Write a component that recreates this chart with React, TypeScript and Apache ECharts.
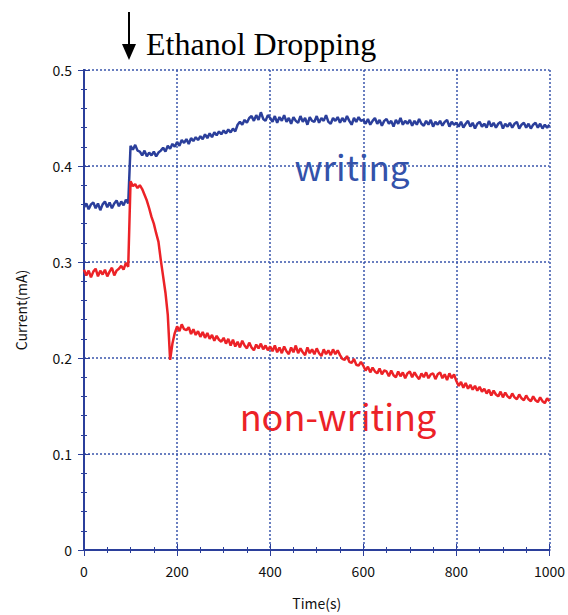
import React, { useEffect, useRef } from "react";
import * as echarts from "echarts";

const STEP = 5; // seconds between samples
const xTicks = [0, 200, 400, 600, 800, 1000];
const yTicks = [0, 0.1, 0.2, 0.3, 0.4, 0.5];

const writing = [
  0.357,0.361,0.355,0.360,0.362,0.356,0.361,0.354,0.360,0.363,0.357,0.362,0.356,0.361,0.364,0.358,0.363,0.359,0.365,0.361,
  0.421,0.417,0.422,0.416,
  0.415,0.411,0.416,0.410,0.414,0.411,0.415,0.410,0.414,0.416,
  0.419,0.415,0.421,0.418,0.423,0.420,
  0.425,0.421,0.427,0.424,0.428,0.423,0.429,0.426,0.430,0.427,
  0.431,0.428,0.433,0.429,0.434,0.430,0.435,0.432,0.436,0.433,
  0.437,0.434,0.438,0.435,0.439,0.436,
  0.443,0.446,0.443,0.448,0.445,0.450,
  0.452,0.447,0.453,0.448,0.456,0.449,0.447,0.453,
  0.450,0.446,0.452,0.445,0.451,0.447,0.453,0.446,0.450,0.444,0.451,0.447,0.445,0.452,0.446,0.450,0.443,0.451,0.447,0.446,
  0.452,0.445,0.450,0.447,0.453,0.446,0.444,0.450,0.447,0.451,0.445,0.450,0.446,0.452,0.447,0.443,0.450,0.446,0.451,0.447,
  0.448,0.444,0.449,0.443,0.447,0.450,0.444,0.448,0.442,0.447,0.449,0.444,0.447,0.441,0.448,0.444,0.450,0.443,0.447,0.444,
  0.448,0.442,0.447,0.443,0.449,0.444,0.442,0.447,0.443,0.448,0.441,0.446,0.443,0.447,0.442,0.446,0.448,0.441,0.446,0.443,
  0.445,0.441,0.446,0.440,0.444,0.447,0.441,0.445,0.439,0.444,0.446,0.441,0.444,0.440,0.447,0.441,0.445,0.440,0.444,0.446,
  0.439,0.444,0.441,0.445,0.440,0.444,0.446,0.439,0.443,0.445,0.440,0.444,0.439,0.443,0.445,0.440,0.444,0.439,0.443,0.440,0.443,
];

const nonWriting = [
  0.292,0.286,0.291,0.284,0.290,0.293,0.285,0.291,0.287,0.292,0.285,0.290,0.294,0.286,0.291,0.293,0.296,0.292,0.299,0.295,
  0.384,0.379,0.381,0.377,0.380,0.376,
  0.370,0.364,0.356,0.347,0.340,0.330,0.321,0.302,0.285,0.268,0.245,0.198,
  0.215,0.226,0.233,0.228,0.235,0.230,
  0.229,0.232,0.225,0.230,0.224,0.228,0.222,0.227,0.221,0.226,0.220,0.224,0.218,0.223,0.219,0.217,
  0.221,0.215,0.220,0.213,0.219,0.212,0.217,0.211,0.218,0.213,0.210,0.216,0.211,0.208,0.214,0.210,0.215,0.209,0.213,0.208,
  0.212,0.207,0.213,0.206,0.211,0.205,0.212,0.207,0.204,0.211,0.206,0.213,0.205,0.210,0.206,0.203,0.211,0.205,0.209,0.204,
  0.210,0.205,0.202,0.209,0.204,0.208,0.203,0.209,0.204,0.208,
  0.203,0.199,0.198,0.202,0.196,0.195,0.199,0.193,0.192,0.196,
  0.192,0.187,0.191,0.185,0.190,0.186,0.184,0.189,0.183,0.187,
  0.186,0.181,0.187,0.182,0.180,0.186,0.181,0.185,0.179,0.184,0.186,0.180,0.185,0.181,0.178,0.184,0.180,0.185,0.179,0.183,
  0.184,0.178,0.183,0.185,0.179,0.183,0.177,0.184,0.179,0.183,
  0.176,0.171,0.175,0.169,0.174,0.168,0.172,0.167,0.171,0.166,0.170,0.165,
  0.168,0.163,0.167,0.161,0.166,0.162,0.160,0.165,0.159,0.164,0.160,0.158,0.163,0.159,0.157,0.162,0.158,0.156,0.161,0.157,
  0.155,0.160,0.156,0.154,0.159,0.155,0.153,0.158,0.155,
];

const BLUE = "#2B3F9B";
const RED = "#EC2227";
const GRID = "#3A55AC";
const SANS = "'Noto Sans CJK JP', 'Noto Sans', sans-serif";

export default function App() {
  const ref = useRef<HTMLDivElement>(null);
  useEffect(() => {
    if (!ref.current) return;
    const chart = echarts.init(ref.current, undefined, { renderer: "svg" });
    const toPairs = (arr: number[]) => arr.map((v, i) => [i * STEP, v]);
    const common = {
      axisLine: { show: true, lineStyle: { color: BLUE, width: 2 } },
      axisTick: { show: true, inside: true, length: 6, lineStyle: { color: BLUE, width: 1 } },
      minorTick: { show: true, length: 3, lineStyle: { color: BLUE, width: 1 } },
    };
    chart.setOption({
      animation: false,
      backgroundColor: "#ffffff",
      grid: { left: 84, right: 17, top: 70, bottom: 64, containLabel: false },
      xAxis: [
        {
          type: "value",
          min: xTicks[0],
          max: xTicks[xTicks.length - 1],
          interval: 200,
          position: "bottom",
          ...common,
          minorTick: { ...common.minorTick, splitNumber: 4 },
          axisLabel: { color: "#111", fontSize: 14, fontFamily: SANS, margin: 14, formatter: (v: number) => String(v) },
          splitLine: { show: true, lineStyle: { color: GRID, type: [2, 2], width: 1.5 } },
          name: "Time(s)",
          nameLocation: "middle",
          nameGap: 46,
          nameTextStyle: { color: "#111", fontSize: 14, fontFamily: SANS },
        },
        {
          type: "value",
          min: xTicks[0],
          max: xTicks[xTicks.length - 1],
          interval: 200,
          position: "top",
          ...common,
          minorTick: { ...common.minorTick, splitNumber: 4 },
          axisLabel: { show: false },
          splitLine: { show: false },
        },
      ],
      yAxis: [
        {
          type: "value",
          min: yTicks[0],
          max: yTicks[yTicks.length - 1],
          interval: 0.1,
          position: "left",
          ...common,
          minorTick: { ...common.minorTick, splitNumber: 5 },
          axisLabel: { color: "#111", fontSize: 14, fontFamily: SANS, margin: 12 },
          splitLine: { show: true, lineStyle: { color: GRID, type: [2, 2], width: 1.5 } },
          name: "Current(mA)",
          nameLocation: "middle",
          nameGap: 56,
          nameRotate: 90,
          nameTextStyle: { color: "#111", fontSize: 14, fontFamily: SANS },
        },
        {
          type: "value",
          min: yTicks[0],
          max: yTicks[yTicks.length - 1],
          interval: 0.1,
          position: "right",
          ...common,
          minorTick: { ...common.minorTick, splitNumber: 5 },
          axisLabel: { show: false },
          splitLine: { show: false },
        },
      ],
      series: [
        {
          name: "writing",
          type: "line",
          data: toPairs(writing),
          showSymbol: false,
          lineStyle: { color: BLUE, width: 2.5 },
          z: 3,
        },
        {
          name: "non-writing",
          type: "line",
          data: toPairs(nonWriting),
          showSymbol: false,
          lineStyle: { color: RED, width: 2.5 },
          z: 4,
        },
      ],
      graphic: [
        { type: "line", shape: { x1: 129, y1: 12, x2: 129, y2: 46 }, style: { stroke: "#000", lineWidth: 2 } },
        { type: "polygon", shape: { points: [[122, 44], [136, 44], [129, 60]] }, style: { fill: "#000" } },
        {
          type: "text",
          x: 146,
          y: 44,
          style: {
            text: "Ethanol Dropping",
            fontFamily: "'Liberation Serif', 'DejaVu Serif', serif",
            fontSize: 32,
            fill: "#000",
            verticalAlign: "middle",
            align: "left",
          },
        },
        {
          type: "text",
          x: 352,
          y: 165,
          style: {
            text: "writing",
            fontFamily: SANS,
            fontSize: 35,
            fill: "#3352AA",
            verticalAlign: "middle",
            align: "center",
          },
        },
        {
          type: "text",
          x: 338,
          y: 415,
          style: {
            text: "non-writing",
            fontFamily: SANS,
            fontSize: 36,
            fill: RED,
            verticalAlign: "middle",
            align: "center",
          },
        },
      ],
    });
    return () => chart.dispose();
  }, []);
  return <div ref={ref} style={{ position: "fixed", left: 0, top: 0, width: 568, height: 615 }} />;
}
